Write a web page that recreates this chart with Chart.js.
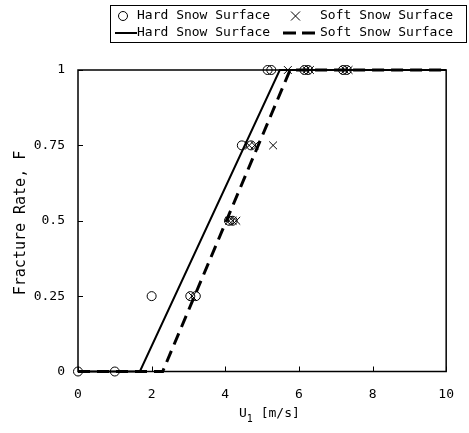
<!DOCTYPE html>
<html lang="en">
<head>
<meta charset="UTF-8">
<title>Fracture Rate vs U1</title>
<script src="https://cdn.jsdelivr.net/npm/chart.js"></script>
<style>
  body { margin: 0; background: #fff; }
</style>
</head>
<body>
<canvas id="chart" width="469" height="433"></canvas>
<script>
const hardU = [0, 1, 2, 3.05, 3.2, 4.1, 4.2, 4.45, 4.7, 5.15, 5.25, 6.15, 6.25, 7.2, 7.3];
const hardF = [0, 0, 0.25, 0.25, 0.25, 0.5, 0.5, 0.75, 0.75, 1, 1, 1, 1, 1, 1];
const softU = [3.1, 4.1, 4.2, 4.3, 4.65, 4.8, 5.3, 5.7, 6.2, 6.3, 7.25, 7.35];
const softF = [0.25, 0.5, 0.5, 0.5, 0.75, 0.75, 0.75, 1, 1, 1, 1, 1];

// fitted lines
const hardLineU = [0, 1.68, 5.48, 10];
const hardLineF = [0, 0, 1, 1];
const softLineU = [0, 2.3, 5.76, 10];
const softLineF = [0, 0, 1, 1];

const xTicks = [0, 2, 4, 6, 8, 10];
const yTicks = [0, 0.25, 0.5, 0.75, 1];

const seriesNames = ['Hard Snow Surface', 'Soft Snow Surface'];

const FONT = '"DejaVu Sans Mono", "Liberation Mono", monospace';

function pts(us, fs) {
    return us.map((u, i) => ({ x: u, y: fs[i] }));
}

// inward ticks, plot frame, axis titles and the boxed legend
const decor = {
    id: 'decor',
    beforeDatasetsDraw(chart) {
        const { ctx, chartArea: a, scales: { x, y } } = chart;
        ctx.save();
        ctx.strokeStyle = '#000';
        ctx.lineWidth = 1;
        ctx.beginPath();
        xTicks.forEach(v => {
            const px = Math.round(x.getPixelForValue(v)) + 0.5;
            ctx.moveTo(px, a.bottom);
            ctx.lineTo(px, a.bottom - 5);
        });
        yTicks.forEach(v => {
            const py = Math.round(y.getPixelForValue(v)) + 0.5;
            ctx.moveTo(a.left, py);
            ctx.lineTo(a.left + 5, py);
        });
        ctx.stroke();
        ctx.lineWidth = 1.5;
        ctx.strokeRect(a.left, a.top, a.right - a.left, a.bottom - a.top);
        ctx.restore();
    },
    afterDraw(chart) {
        const { ctx, chartArea: a } = chart;
        ctx.save();
        ctx.fillStyle = '#000';
        ctx.strokeStyle = '#000';

        // y title
        ctx.font = '15px ' + FONT;
        ctx.textAlign = 'center';
        ctx.textBaseline = 'middle';
        ctx.translate(21, 223);
        ctx.rotate(-Math.PI / 2);
        ctx.fillText('Fracture Rate, F', 0, 0);
        ctx.setTransform(1, 0, 0, 1, 0, 0);

        // x title with subscript
        ctx.textAlign = 'left';
        const tx = 239, ty = 414;
        ctx.font = '13px ' + FONT;
        const wU = ctx.measureText('U').width;
        ctx.fillText('U', tx, ty);
        ctx.font = '10px ' + FONT;
        const w1 = ctx.measureText('1').width;
        ctx.fillText('1', tx + wU, ty + 5);
        ctx.font = '13px ' + FONT;
        ctx.fillText(' [m/s]', tx + wU + w1, ty);

        // legend box
        ctx.lineWidth = 1;
        ctx.strokeRect(110.5, 5.5, 356, 37);
        ctx.font = '13px ' + FONT;
        ctx.textBaseline = 'middle';
        const r1 = 16, r2 = 33;
        // circle marker
        ctx.beginPath();
        ctx.arc(123, r1, 4.5, 0, Math.PI * 2);
        ctx.stroke();
        ctx.fillText(seriesNames[0], 137, r1);
        // cross marker
        ctx.beginPath();
        ctx.moveTo(291, r1 - 4.5); ctx.lineTo(300, r1 + 4.5);
        ctx.moveTo(300, r1 - 4.5); ctx.lineTo(291, r1 + 4.5);
        ctx.stroke();
        ctx.fillText(seriesNames[1], 320, r1);
        // solid line
        ctx.lineWidth = 2;
        ctx.beginPath();
        ctx.moveTo(115, r2); ctx.lineTo(137, r2);
        ctx.stroke();
        ctx.fillText(seriesNames[0], 137, r2);
        // dashed line
        ctx.lineWidth = 3;
        ctx.setLineDash([13, 6]);
        ctx.beginPath();
        ctx.moveTo(283, r2); ctx.lineTo(318, r2);
        ctx.stroke();
        ctx.setLineDash([]);
        ctx.fillText(seriesNames[1], 320, r2);
        ctx.restore();
    }
};

new Chart(document.getElementById('chart'), {
    type: 'scatter',
    data: {
        datasets: [
            {
                label: seriesNames[0] + ' (data)',
                data: pts(hardU, hardF),
                pointStyle: 'circle',
                pointRadius: 4.5,
                pointBorderWidth: 1,
                pointBorderColor: '#000',
                pointBackgroundColor: 'rgba(0,0,0,0)',
                showLine: false,
                clip: false
            },
            {
                label: seriesNames[1] + ' (data)',
                data: pts(softU, softF),
                pointStyle: 'crossRot',
                pointRadius: 5.5,
                pointBorderWidth: 1,
                pointBorderColor: '#000',
                showLine: false,
                clip: false
            },
            {
                label: seriesNames[0],
                data: pts(hardLineU, hardLineF),
                showLine: true,
                pointRadius: 0,
                borderColor: '#000',
                borderWidth: 2,
                tension: 0,
                clip: false
            },
            {
                label: seriesNames[1],
                data: pts(softLineU, softLineF),
                showLine: true,
                pointRadius: 0,
                borderColor: '#000',
                borderWidth: 3,
                borderDash: [12, 7],
                tension: 0,
                clip: false
            }
        ]
    },
    options: {
        responsive: false,
        animation: false,
        layout: { padding: { top: 70, right: 10, left: 0, bottom: 0 } },
        plugins: {
            legend: { display: false },
            tooltip: { enabled: false }
        },
        scales: {
            x: {
                type: 'linear',
                min: 0,
                max: 10,
                afterBuildTicks: s => { s.ticks = xTicks.map(v => ({ value: v })); },
                ticks: {
                    color: '#000', font: { family: FONT, size: 13 }, padding: 15, maxRotation: 0,
                    callback: v => String(v)
                },
                grid: { display: false, drawTicks: false },
                border: { display: false },
                afterFit: s => { s.height = 61.5; }
            },
            y: {
                type: 'linear',
                min: 0,
                max: 1,
                afterBuildTicks: s => { s.ticks = yTicks.map(v => ({ value: v })); },
                ticks: {
                    color: '#000', font: { family: FONT, size: 13 }, padding: 13,
                    callback: v => String(v)
                },
                grid: { display: false, drawTicks: false },
                border: { display: false },
                afterFit: s => { s.width = 78; }
            }
        }
    },
    plugins: [decor]
});
</script>
</body>
</html>
